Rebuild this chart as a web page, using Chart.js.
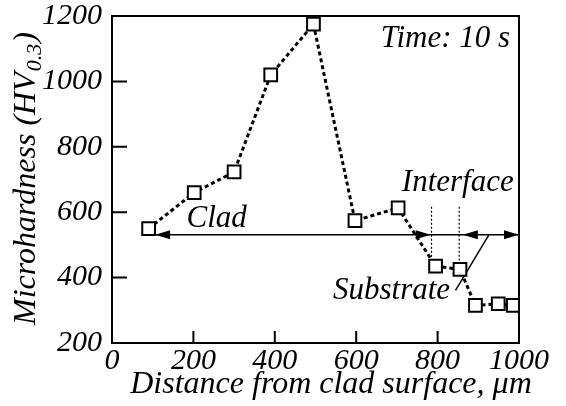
<!DOCTYPE html>
<html lang="en">
<head>
    <meta charset="UTF-8">
    <title>Microhardness profile</title>
    <script src="https://cdn.jsdelivr.net/npm/chart.js"></script>
    <style>
        body { margin: 0; background: #fff; }
        #wrap { width: 566px; height: 406px; }
    </style>
</head>
<body>
    <div id="wrap">
        <canvas id="hvChart" width="566" height="406"></canvas>
    </div>

    <script>
        // distance from clad surface (um) and microhardness (HV0.3)
        const distance = [90, 202, 300, 390, 495, 597, 703, 795, 855, 893, 949, 986];
        const hardness = [550, 660, 723, 1020, 1175, 574, 613, 435, 425, 315, 320, 315];

        const xTicks = [0, 200, 400, 600, 800, 1000];
        const yTicks = [200, 400, 600, 800, 1000, 1200];

        const xTitle = 'Distance from clad surface, μm';
        const yTitle = ['Microhardness (HV', '0.3', ')'];

        const serif = "'Liberation Serif', 'Times New Roman', serif";
        const FS = 31;      // notes inside the plot
        const TITLE_FS = 32;
        const TICK_FS = 30; // tick labels

        // annotation marks, in data units
        const cladArrow = { from: 106, to: 783, y: 531 };
        const substrateArrow = { from: 862, to: 1000, y: 531 };
        const interfaceLines = [
            { x: 785, top: 617, bottom: 462 },
            { x: 853, top: 617, bottom: 452 }
        ];
        const substrateLeader = { x1: 926, y1: 531, x2: 844, y2: 361 };
        const labels = [
            { text: 'Time: 10 s', x: 978, y: 1129, align: 'right' },
            { text: 'Interface', x: 987, y: 691, align: 'right' },
            { text: 'Clad', x: 183, y: 580, align: 'left' },
            { text: 'Substrate', x: 543, y: 361, align: 'left' }
        ];

        function arrowHead(ctx, x, y, dir) {
            // dir = -1 points left, +1 points right
            ctx.beginPath();
            ctx.moveTo(x, y);
            ctx.lineTo(x - dir * 15, y - 4.5);
            ctx.lineTo(x - dir * 15, y + 4.5);
            ctx.closePath();
            ctx.fill();
        }

        const framePlugin = {
            id: 'frame',
            beforeDatasetsDraw(chart) {
                const ctx = chart.ctx;
                const xs = chart.scales.x, ys = chart.scales.y;
                const a = chart.chartArea;
                ctx.save();
                ctx.strokeStyle = '#000';
                ctx.fillStyle = '#000';

                // inward tick marks
                ctx.lineWidth = 2;
                ctx.beginPath();
                xs.ticks.forEach(t => {
                    if (t.value <= xs.min || t.value >= xs.max) return;
                    const px = xs.getPixelForValue(t.value);
                    ctx.moveTo(px, a.bottom);
                    ctx.lineTo(px, a.bottom - 12);
                });
                ys.ticks.forEach(t => {
                    if (t.value <= ys.min || t.value >= ys.max) return;
                    const py = ys.getPixelForValue(t.value);
                    ctx.moveTo(a.left, py);
                    ctx.lineTo(a.left + 15, py);
                });
                ctx.stroke();

                // horizontal arrows
                ctx.lineWidth = 1.5;
                const yA = ys.getPixelForValue(cladArrow.y);
                ctx.beginPath();
                ctx.moveTo(xs.getPixelForValue(cladArrow.from), yA);
                ctx.lineTo(xs.getPixelForValue(substrateArrow.to), yA);
                ctx.stroke();
                arrowHead(ctx, xs.getPixelForValue(cladArrow.from), yA, -1);
                arrowHead(ctx, xs.getPixelForValue(cladArrow.to), yA, 1);
                arrowHead(ctx, xs.getPixelForValue(substrateArrow.from), yA, -1);
                arrowHead(ctx, xs.getPixelForValue(substrateArrow.to), yA, 1);

                // interface dotted lines
                ctx.lineWidth = 1.2;
                ctx.setLineDash([2, 2]);
                ctx.beginPath();
                interfaceLines.forEach(l => {
                    const px = xs.getPixelForValue(l.x);
                    ctx.moveTo(px, ys.getPixelForValue(l.top));
                    ctx.lineTo(px, ys.getPixelForValue(l.bottom));
                });
                ctx.stroke();
                ctx.setLineDash([]);

                // substrate leader
                ctx.lineWidth = 1.5;
                ctx.beginPath();
                ctx.moveTo(xs.getPixelForValue(substrateLeader.x1), ys.getPixelForValue(substrateLeader.y1));
                ctx.lineTo(xs.getPixelForValue(substrateLeader.x2), ys.getPixelForValue(substrateLeader.y2));
                ctx.stroke();

                // text labels
                ctx.font = 'italic ' + FS + 'px ' + serif;
                ctx.textBaseline = 'middle';
                labels.forEach(l => {
                    ctx.textAlign = l.align;
                    ctx.fillText(l.text, xs.getPixelForValue(l.x), ys.getPixelForValue(l.y));
                });
                ctx.restore();
            },
            afterDraw(chart) {
                const ctx = chart.ctx;
                const a = chart.chartArea;
                ctx.save();
                ctx.strokeStyle = '#000';
                ctx.fillStyle = '#000';
                ctx.lineWidth = 2;
                ctx.strokeRect(a.left, a.top, a.right - a.left, a.bottom - a.top);

                const bigFont = 'italic ' + TITLE_FS + 'px ' + serif;
                const smallFont = 'italic ' + Math.round(TITLE_FS * 0.68) + 'px ' + serif;

                // x axis title (sits a bit right of the plot centre in the original)
                ctx.font = bigFont;
                ctx.textAlign = 'center';
                ctx.textBaseline = 'alphabetic';
                ctx.fillText(xTitle, 331, 393);

                // y axis title with subscript
                ctx.font = bigFont;
                const w1 = ctx.measureText(yTitle[0]).width;
                const w3 = ctx.measureText(yTitle[2]).width;
                ctx.font = smallFont;
                const w2 = ctx.measureText(yTitle[1]).width;
                const total = w1 + w2 + w3 + 3;
                ctx.translate(25, 178);
                ctx.rotate(-Math.PI / 2);
                ctx.textAlign = 'left';
                const x0 = -total / 2;
                const base = 10;
                ctx.font = bigFont;
                ctx.fillText(yTitle[0], x0, base);
                ctx.font = smallFont;
                ctx.fillText(yTitle[1], x0 + w1 + 1, base + 6);
                ctx.font = bigFont;
                ctx.fillText(yTitle[2], x0 + w1 + w2 + 2, base);
                ctx.restore();
            }
        };

        const ctx = document.getElementById('hvChart').getContext('2d');
        new Chart(ctx, {
            type: 'line',
            data: {
                datasets: [{
                    data: distance.map((d, i) => ({ x: d, y: hardness[i] })),
                    borderColor: '#000',
                    borderWidth: 3,
                    borderDash: [4, 3],
                    pointStyle: 'rect',
                    pointRadius: 9,
                    pointBorderWidth: 2,
                    pointBackgroundColor: '#fff',
                    pointBorderColor: '#000',
                    fill: false,
                    tension: 0
                }]
            },
            options: {
                responsive: false,
                animation: false,
                layout: { padding: { top: 16, right: 47, left: 0, bottom: 0 } },
                plugins: {
                    legend: { display: false },
                    tooltip: { enabled: false }
                },
                scales: {
                    x: {
                        type: 'linear',
                        min: 0,
                        max: 1000,
                        afterBuildTicks: s => { s.ticks = xTicks.map(v => ({ value: v })); },
                        afterFit: s => { s.height = 63; s.paddingLeft = 0; s.paddingRight = 0; },
                        grid: { display: false, drawTicks: false },
                        border: { display: false },
                        ticks: {
                            color: '#000',
                            padding: 0,
                            maxRotation: 0,
                            callback: v => String(v),
                            font: { family: serif, size: TICK_FS, style: 'italic' }
                        },
                        title: { display: false }
                    },
                    y: {
                        min: 200,
                        max: 1200,
                        afterBuildTicks: s => { s.ticks = yTicks.map(v => ({ value: v })); },
                        afterFit: s => { s.width = 112; s.paddingTop = 0; s.paddingBottom = 0; },
                        grid: { display: false, drawTicks: false },
                        border: { display: false },
                        ticks: {
                            color: '#000',
                            padding: 10,
                            callback: v => String(v),
                            font: { family: serif, size: TICK_FS, style: 'italic' }
                        }
                    }
                }
            },
            plugins: [framePlugin]
        });
    </script>
</body>
</html>
